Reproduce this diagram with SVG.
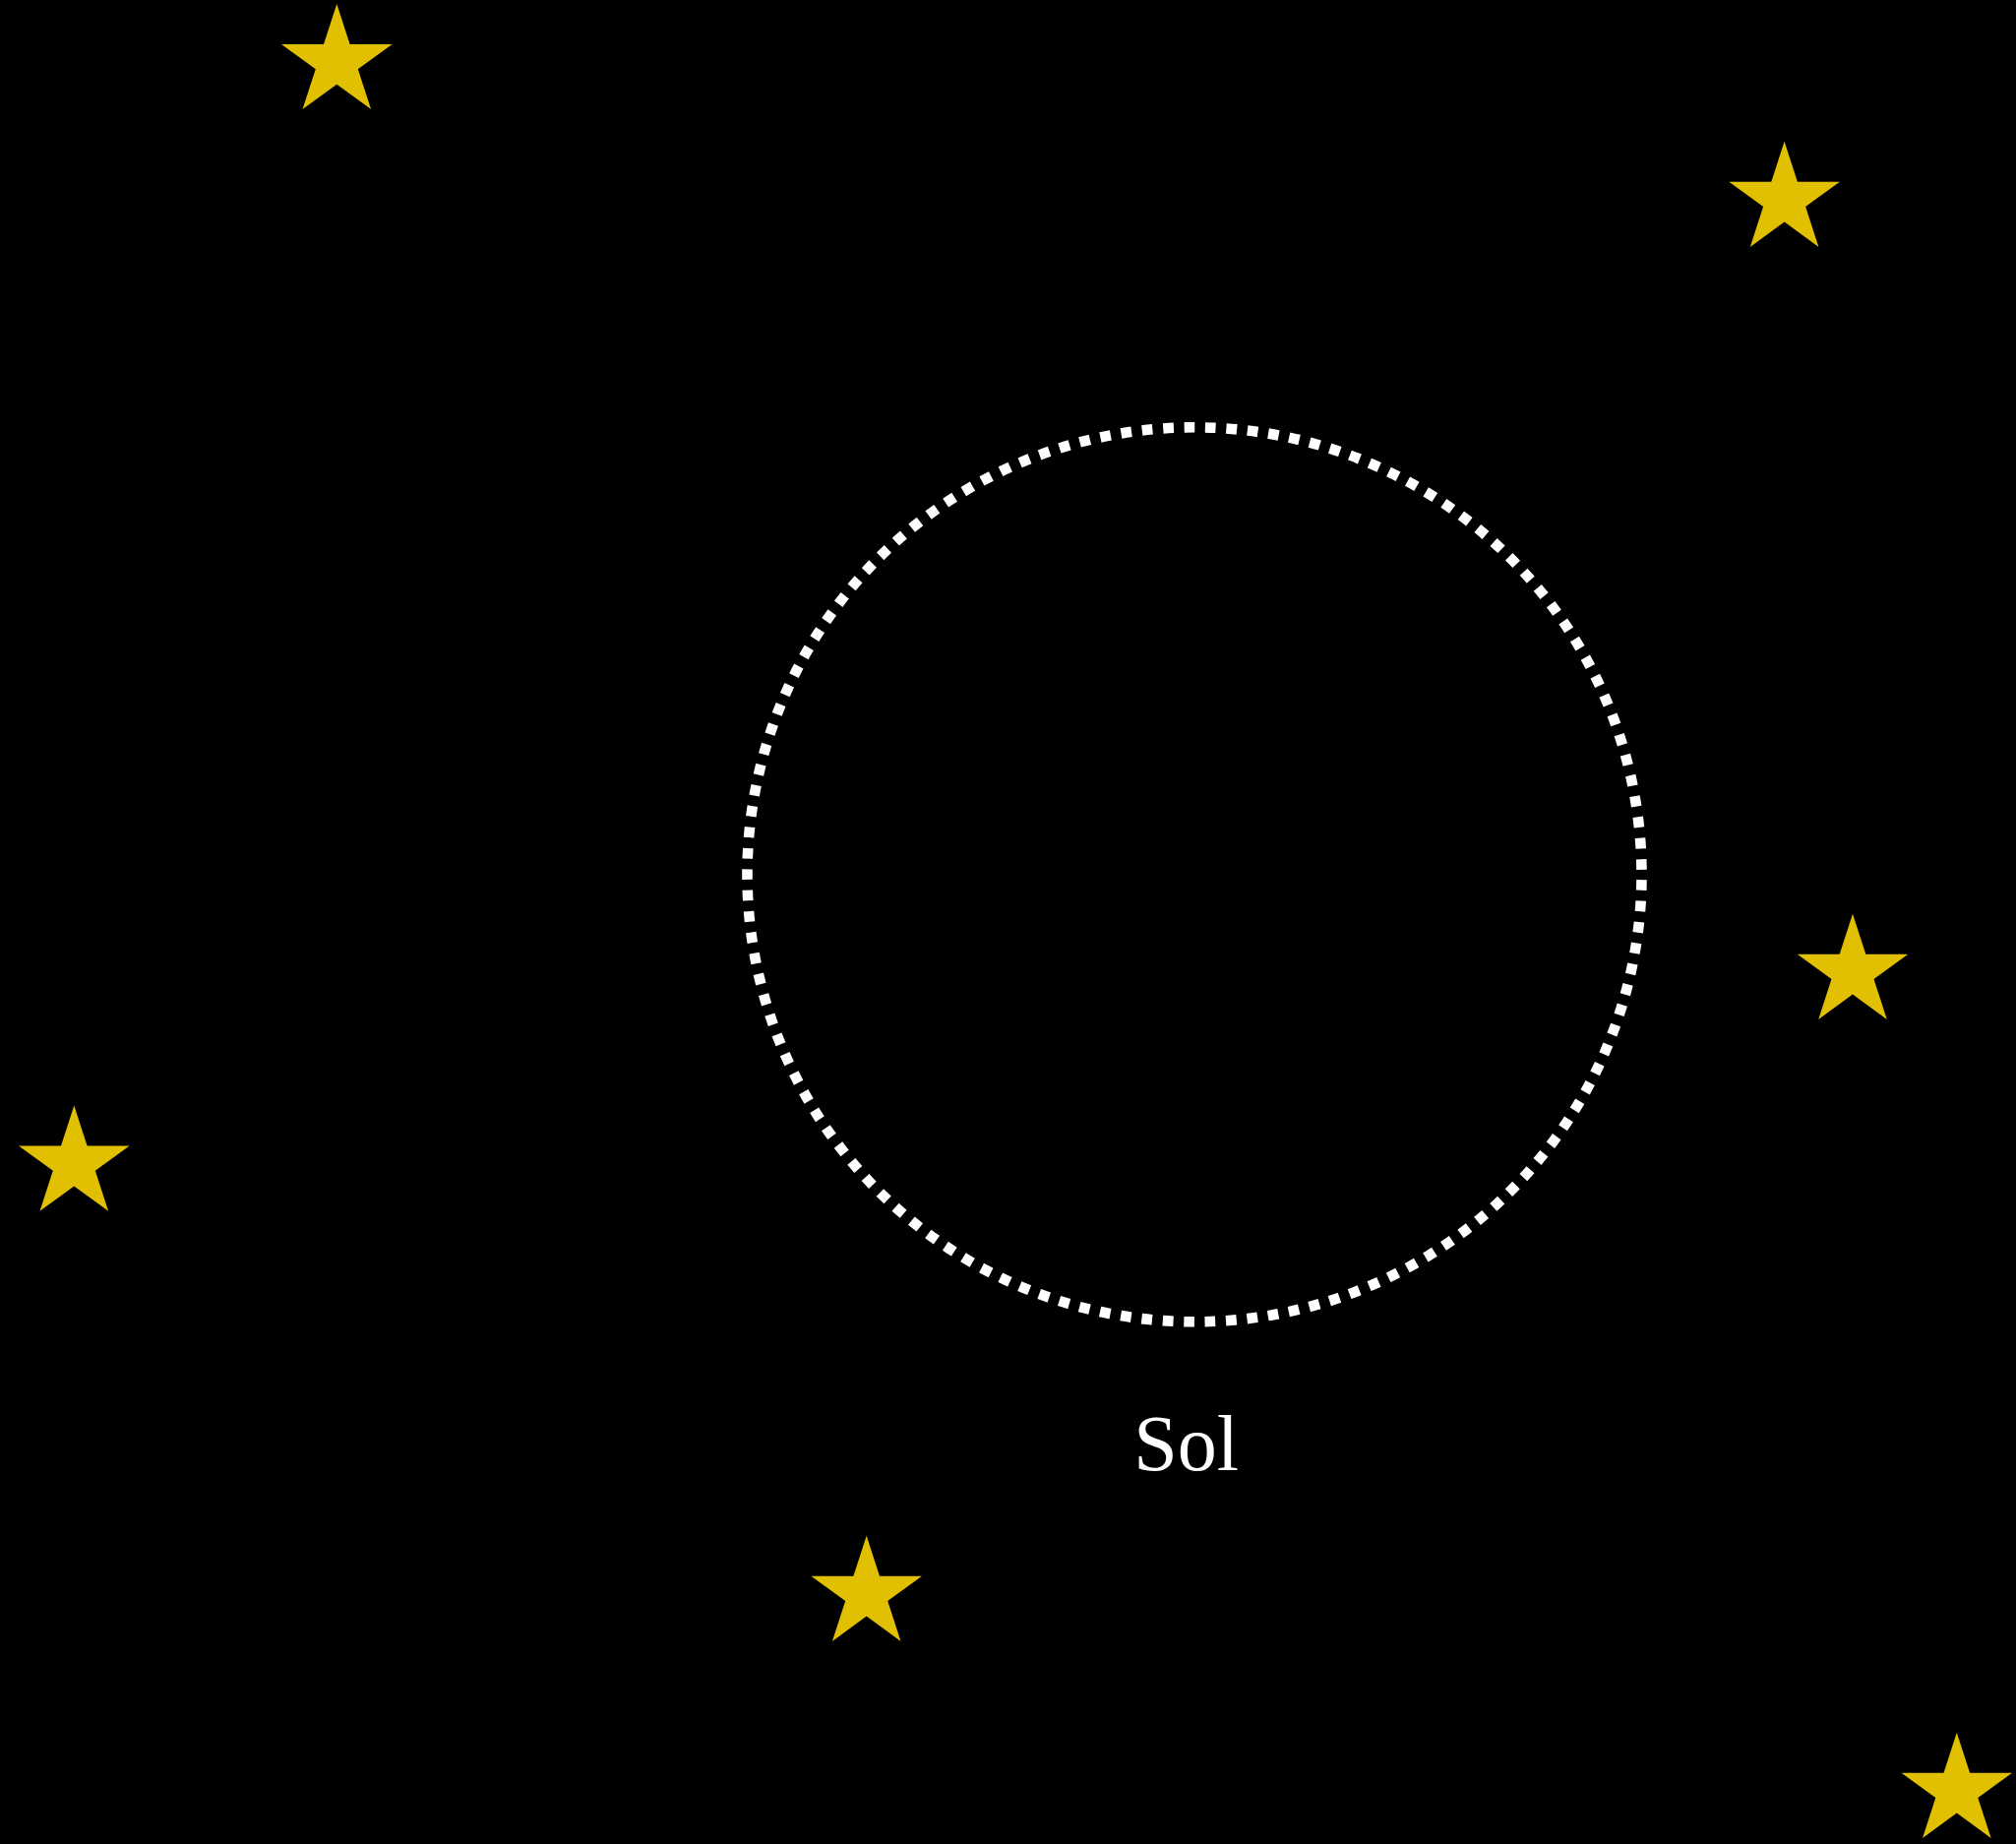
<svg xmlns="http://www.w3.org/2000/svg" xmlns:xlink="http://www.w3.org/1999/xlink" width="2049" height="1874" viewBox="0 0 2049 1874">
  <style>
    .star { fill: #e0c000; }
    .orbit { fill: none; stroke: #ffffff; stroke-width: 10.6; stroke-dasharray: 10.7 10.77; stroke-dashoffset: 16.05; }
    .label { fill: #ffffff; font-family: "Liberation Serif", "DejaVu Serif", serif; font-size: 80px; text-anchor: middle; }
  </style>
  <defs>
    <polygon id="starShape" class="star" points="0,-59.2 13.3,-18.3 56.3,-18.3 21.5,7 34.8,47.9 0,22.6 -34.8,47.9 -21.5,7 -56.3,-18.3 -13.3,-18.3"/>
  </defs>
  <rect x="0" y="0" width="2049" height="1874" fill="#000000"/>
  <g id="star1"><use xlink:href="#starShape" href="#starShape" x="342.3" y="63.2"/></g>
  <g id="star2"><use xlink:href="#starShape" href="#starShape" x="1813.6" y="203"/></g>
  <g id="star3"><use xlink:href="#starShape" href="#starShape" x="1883" y="988"/></g>
  <g id="star4"><use xlink:href="#starShape" href="#starShape" x="75.3" y="1182.8"/></g>
  <g id="star5"><use xlink:href="#starShape" href="#starShape" x="880.7" y="1620"/></g>
  <g id="star6"><use xlink:href="#starShape" href="#starShape" x="1988.8" y="1820"/></g>
  <g id="sol">
    <circle class="orbit" cx="1214" cy="888.8" r="454.5"/>
    <text class="label" x="1205.5" y="1494">Sol</text>
  </g>
</svg>
